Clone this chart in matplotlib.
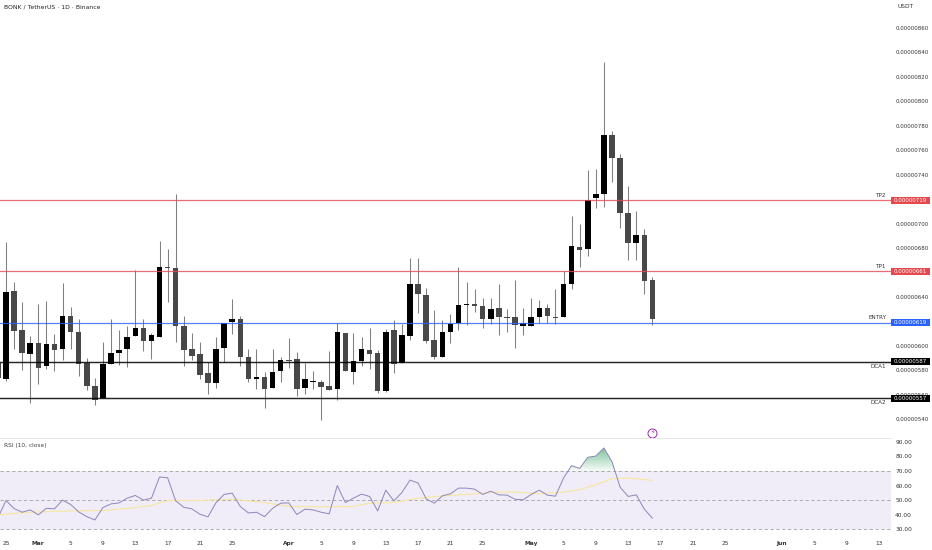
import numpy as np
import pandas as pd
import matplotlib.pyplot as plt
from matplotlib.patches import Rectangle

# daily candles, prices in 1e-8 USDT, first row is the day cut off at the left edge
opens = [586.1, 572.8, 644.8, 612.6, 593.2, 602.5, 583.4, 601.4, 597.1, 624.3, 611.2, 586.1, 567.2, 557, 585, 594.1,
         597.1, 608.2, 614.5, 603.9, 607.4, 664.4, 663.6, 616.4, 597.3, 593.5, 577.4, 569.3, 597.9, 619.4, 621.6, 591,
         573, 574.1, 565.4, 579.1, 588.3, 589.4, 565.2, 570.3, 570.3, 567, 564.2, 610.4, 578.3, 587.5, 596.5, 594.3,
         563, 612.6, 586.1, 608.2, 650.5, 641.5, 604.4, 591, 611.2, 618.4, 633.6, 634.1, 632.5, 622.1, 630.6, 623.5,
         623.5, 616.1, 616.1, 623.3, 630.6, 623.5, 623.3, 650.5, 680.8, 679.4, 720.6, 724.2, 772.7, 753.6, 708.6,
         684.3, 690.4, 653.5]
highs = [590, 684.6, 652.4, 635.5, 608.2, 634.1, 636.6, 609.6, 651.6, 631.7, 621.6, 589.7, 573.3, 602.8, 621.6, 612.6,
         615.9, 661.7, 622.1, 610.2, 685.7, 678.9, 723.9, 624.3, 610.4, 602.8, 586.9, 607.4, 618.6, 638.5, 624.3, 597.3,
         597.3, 578.5, 597.3, 591, 606.6, 594.6, 585.9, 579.3, 571.7, 595.4, 618.8, 610.4, 610.4, 607.4, 614.5, 596.5,
         613.4, 620.8, 617.5, 671.5, 671.5, 647, 629, 620.8, 625.7, 664.2, 652.4, 646.4, 638.8, 638.8, 650.5, 630.3,
         653.5, 630.9, 638.8, 637.2, 633.9, 646.4, 661.4, 705.9, 699.6, 743.8, 744.6, 831.9, 775.7, 756.6, 730.7,
         710.5, 695.3, 656.5]
lows = [570, 571.4, 597.3, 580.1, 553.1, 568.4, 580.7, 579.3, 588.3, 597.3, 575.2, 563.5, 551.5, 557, 585, 584.5,
        582.3, 608.2, 595.7, 589.4, 607.4, 635.5, 603.3, 583.7, 588.3, 572.8, 560.5, 565.7, 586.7, 609.8, 583.7, 570.6,
        564.6, 549.3, 565.4, 570.6, 581.5, 558.9, 560.7, 564.6, 539.2, 563.8, 555.3, 579.1, 568.4, 583.7, 581.2, 561.6,
        562.4, 577.4, 585.9, 604.7, 626.5, 602.5, 588.9, 590.5, 602.5, 612.6, 616.7, 627.8, 614.8, 617.8, 608.8, 611.5,
        598.4, 608.8, 616.1, 618.8, 618.8, 617.8, 623.3, 646.7, 664.4, 673.7, 712.7, 713.8, 734, 696.6, 670.4,
        670.4, 642.6, 616.7]
closes = [573.6, 643.7, 612.1, 594.1, 602.5, 582, 601.4, 596.8, 624.3, 611, 585, 567, 555.8, 585.3, 594.3, 596.5,
          607.4, 614.5, 603.9, 608.5, 664.4, 663.6, 616.4, 596.3, 591.8, 576, 569.3, 597.3, 618.6, 621.6, 591, 573,
          574.4, 564.3, 578.5, 588.3, 587.7, 564.3, 572.5, 571.1, 566.2, 564, 611.5, 579.1, 587.5, 597.3, 593, 562.7,
          611.5, 585.3, 608.5, 650.5, 642.3, 604.1, 591, 611.5, 617.5, 633.6, 634.4, 632.5, 622.1, 630.3, 623.3, 622.9,
          617.2, 618.4, 623.3, 630.6, 624.3, 622.9, 650.5, 681.6, 678.3, 719.5, 724.4, 772.7, 753.6, 708.6, 684.3,
          690.4, 653.2, 621.6]

rsi = [38, 49.7, 44.2, 41.7, 43.3, 39.9, 44.4, 44, 50, 47, 41.9, 38.7, 36.4, 44.9, 47.4, 48.1, 51.3, 53.2, 50, 51.3,
       65.8, 65.3, 49.5, 45.1, 44, 40.3, 38.5, 48.3, 53.9, 54.8, 45.6, 41.2, 41.7, 38.7, 44.4, 47.9, 48.1, 40.1, 43.8,
       43.3, 41.7, 40.6, 60, 48.3, 51.3, 54.1, 52.5, 42.6, 56.8, 49.5, 55.2, 63.7, 61.7, 50.9, 47.9, 52.9, 54.3, 58.2,
       58.2, 57.5, 53.9, 56.1, 53.6, 53.4, 50.6, 50.2, 53.9, 56.8, 53.4, 52.7, 65.1, 73.6, 71.7, 79.3, 80.2, 85.7, 76.3,
       58.9, 52.5, 53.6, 43.8, 37.6]

# yellow rsi average, read at a few days only
ma_days = [-1, 3, 8, 12, 16, 18, 20, 24, 28, 32, 35, 40, 43, 45, 48, 51, 54, 57, 61, 63, 66, 69, 71, 73, 75, 77, 80]
ma_values = [39.9, 41.7, 42.6, 42.8, 44.9, 46.3, 49.7, 49.7, 50.6, 48.3, 45.6, 45.4, 45.6, 47.9, 48.3, 51.3, 52.9,
             53.9, 55.5, 55.5, 54.3, 55.5, 57.1, 60.5, 64.6, 65.1, 63.5]

level_names = ['TP2', 'TP1', 'ENTRY', 'DCA1', 'DCA2']
level_prices = [719, 661, 619, 587, 557]
level_colors = ['#e5484d', '#e5484d', '#2962ff', '#000000', '#000000']
level_labels = ['0.00000719', '0.00000661', '0.00000619', '0.00000587', '0.00000557']

# 620, 660 and 720 are hidden behind the level tags in the reference
price_ticks = [540, 560, 580, 600, 640, 680, 700, 740, 760, 780, 800, 820, 840, 860]
rsi_ticks = [30, 40, 50, 60, 70, 80, 90]

start = pd.Timestamp('2025-02-25')
tick_dates = ['2025-02-25', '2025-03-01', '2025-03-05', '2025-03-09', '2025-03-13', '2025-03-17', '2025-03-21',
              '2025-03-25', '2025-04-01', '2025-04-05', '2025-04-09', '2025-04-13', '2025-04-17', '2025-04-21',
              '2025-04-25', '2025-05-01', '2025-05-05', '2025-05-09', '2025-05-13', '2025-05-17', '2025-05-21',
              '2025-05-25', '2025-06-01', '2025-06-05', '2025-06-09', '2025-06-13']
tick_labels = ['25', 'Mar', '5', '9', '13', '17', '21', '25', 'Apr', '5', '9', '13', '17', '21', '25', 'May', '5', '9',
               '13', '17', '21', '25', 'Jun', '5', '9', '13']
tick_days = [(pd.Timestamp(d) - start).days for d in tick_dates]

W, H = 932, 550
plt.rcParams['font.family'] = ['DejaVu Sans']
fig = plt.figure(figsize=(W / 100, H / 100), dpi=100, facecolor='white')

# axes positions come from the pixel layout of the screenshot
right = 891
split = 438
bottom = 535
ax = fig.add_axes([0, 1 - split / H, right / W, split / H])
ax2 = fig.add_axes([0, 1 - bottom / H, right / W, (bottom - split) / H], sharex=ax)

days = np.arange(len(opens)) - 1
opens_a, highs_a, lows_a, closes_a = map(np.array, (opens, highs, lows, closes))
colors = np.where(closes_a >= opens_a, '#000000', '#484848')

ax.vlines(days, lows_a, highs_a, color='#808080', linewidth=0.75, zorder=2)
ax.bar(days, np.maximum(np.abs(closes_a - opens_a), 0.9), bottom=np.minimum(opens_a, closes_a),
       width=0.68, color=colors, linewidth=0, zorder=3)

for name, price, col in zip(level_names, level_prices, level_colors):
    lw = 1.05 if col == '#000000' else 0.9
    ax.axhline(price, color=col, linewidth=lw, alpha=0.8 if col != '#000000' else 0.85, zorder=4)
    # DCA names sit under the line, the others above it
    va, off = ('top', -1.7) if name.startswith('DCA') else ('bottom', 1.7)
    ax.text(886.5 / 8.08 - 0.743, price + off, name, fontsize=4.1, ha='right', va=va, color='#333333', zorder=5)

ax.set_xlim(-6 / 8.08, (right - 6) / 8.08)
ax.set_ylim(860 - (split - 28) * 0.8183, 860 + 28 * 0.8183)
ax.yaxis.tick_right()
ax.set_yticks(price_ticks)
ax.set_yticklabels(['0.%08d' % p for p in price_ticks], fontsize=4.0, color='#333333')
ax.tick_params(axis='y', length=0, pad=3)
ax.tick_params(axis='x', length=0, labelbottom=False)
for s in ax.spines.values():
    s.set_visible(False)

# coloured price tags over the right axis
trans = ax.get_yaxis_transform()
for price, col, lab in zip(level_prices, level_colors, level_labels):
    ax.add_patch(Rectangle((1.0, price - 3.0), 0.0437, 6.0, transform=trans, facecolor=col, edgecolor='none',
                           clip_on=False, zorder=6))
    ax.text(1.0219, price, lab, transform=trans, fontsize=4.0, color='white', ha='center', va='center',
            clip_on=False, zorder=7)

ax.text(4, H - 7, 'BONK / TetherUS · 1D · Binance', transform=None, fontsize=4.4, color='#222222', va='center',
        fontweight='medium')
ax.text(897, H - 7, 'USDT', transform=None, fontsize=4.2, color='#333333', va='center')

# purple flash icon under the last candle
ax.scatter([80], [528.8], s=42, facecolor='white', edgecolor='#9c27b0', linewidth=0.7, zorder=6, clip_on=False)
ax.text(80, 528.8, '\u26a1', fontsize=4.5, color='#9c27b0', ha='center', va='center', zorder=7)

# rsi pane
ax2.axhspan(30, 70, color='#7e57c2', alpha=0.1, linewidth=0, zorder=0)
for lvl in [70, 50, 30]:
    ax2.axhline(lvl, color='#a0a0a0', linewidth=0.6, linestyle=(0, (4, 3)), zorder=1)

# green gradient above 70
rsi_a = np.array(rsi)
grad = np.linspace(0.7, 0.05, 64).reshape(-1, 1)
poly = ax2.fill_between(days, 70, rsi_a, where=rsi_a > 70, interpolate=True, color='none')
rgba = np.ones((64, 1, 4))
rgba[..., 0], rgba[..., 1], rgba[..., 2] = 0.26, 0.66, 0.42
rgba[..., 3] = grad
img = ax2.imshow(rgba, extent=[60, 80, 70, 86], aspect='auto', origin='upper', zorder=2)
img.set_clip_path(poly.get_paths()[0], transform=ax2.transData)

ax2.plot(ma_days, ma_values, color='#f7e6a0', linewidth=0.8, zorder=3)
ax2.plot(days, rsi, color='#8f84bb', linewidth=0.7, zorder=4)

ax2.set_ylim(30 - (bottom - 529.3) / 1.46, 30 + (529.3 - split) / 1.46)
ax2.yaxis.tick_right()
ax2.set_yticks(rsi_ticks)
ax2.set_yticklabels(['%.2f' % v for v in rsi_ticks], fontsize=4.2, color='#333333')
ax2.tick_params(axis='y', length=0, pad=3)
ax2.set_xticks(tick_days)
ax2.set_xticklabels(tick_labels, fontsize=4.2, color='#333333')
ax2.tick_params(axis='x', length=0, pad=4)
for lab in ax2.get_xticklabels():
    if lab.get_text() in ('Mar', 'Apr', 'May', 'Jun'):
        lab.set_fontweight('bold')
for s in ax2.spines.values():
    s.set_visible(False)
ax2.spines['top'].set_visible(True)
ax2.spines['top'].set_color('#e6e6e6')
ax2.spines['top'].set_linewidth(0.7)
ax2.text(4, H - 445, 'RSI (10, close)', transform=None, fontsize=4.2, color='#444444', va='center')
ax2.set_xlim(-6 / 8.08, (right - 6) / 8.08)

fig.savefig('out.png', dpi=100)
